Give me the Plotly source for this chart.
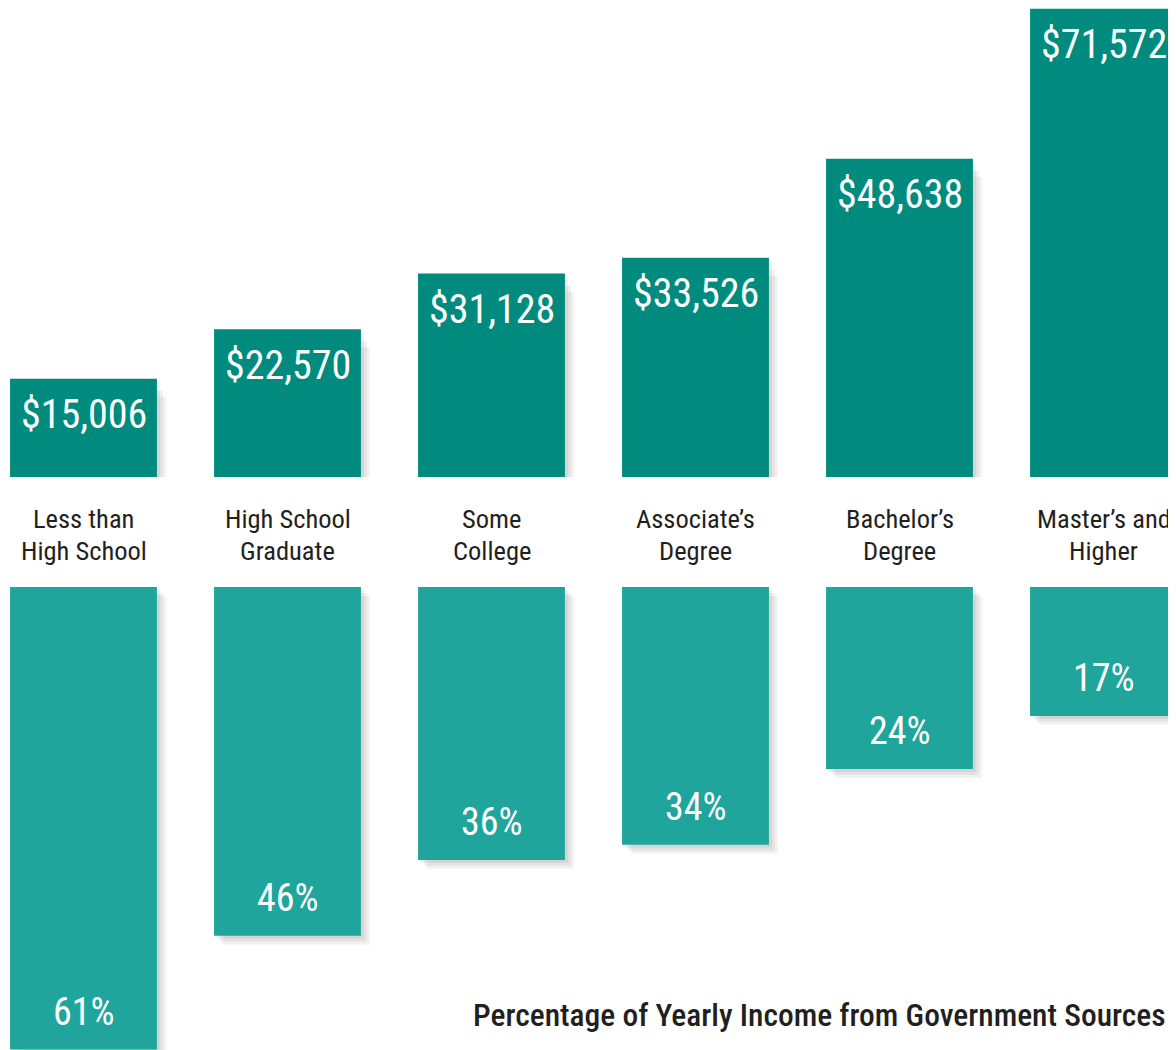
import plotly.graph_objects as go

categories = ["Less than<br>High School", "High School<br>Graduate", "Some<br>College",
              "Associate’s<br>Degree", "Bachelor’s<br>Degree", "Master’s and<br>Higher"]
income = [15006, 22570, 31128, 33526, 48638, 71572]
gov_share = [61, 46, 36, 34, 24, 17]

income_labels = ["${:,}".format(v) for v in income]
share_labels = [f"{v}%" for v in gov_share]

FONT = "Roboto Condensed, Roboto, sans-serif"
DARK = "#008b7e"
LIGHT = "#1fa59c"
INK = "#231f20"
# page body has an 8px margin, so the figure is sized to the visible area
W = 1168
H = 1042

x = list(range(len(categories)))
bar_w = 0.72

inc_top = 71700
pct_bottom = 61.05
# px -> data conversions (used for shadow offsets)
inc_per_px = inc_top / 469
pct_per_px = pct_bottom / (H - 579)
x_per_px = 1 / 204

fig = go.Figure()

# soft drop shadows (a few layered translucent bars)
for k, a in [(3, 0.06), (6, 0.06), (9, 0.05)]:
    fig.add_trace(go.Bar(
        x=x, y=[v - k * inc_per_px for v in income], base=-k * inc_per_px,
        width=bar_w, offset=-bar_w / 2 + k * x_per_px,
        marker=dict(color=f"rgba(0,0,0,{a})", line_width=0),
        xaxis="x", yaxis="y", hoverinfo="skip", showlegend=False))
    fig.add_trace(go.Bar(
        x=x, y=gov_share, base=k * pct_per_px,
        width=bar_w, offset=-bar_w / 2 + k * x_per_px,
        marker=dict(color=f"rgba(0,0,0,{a})", line_width=0),
        xaxis="x2", yaxis="y2", hoverinfo="skip", showlegend=False))

fig.add_trace(go.Bar(
    x=x, y=income, width=bar_w,
    marker=dict(color=DARK, line_width=0),
    xaxis="x", yaxis="y", showlegend=False))
fig.add_trace(go.Bar(
    x=x, y=gov_share, width=bar_w,
    marker=dict(color=LIGHT, line_width=0),
    xaxis="x2", yaxis="y2", showlegend=False))

annotations = []
for i, (v, t) in enumerate(zip(income, income_labels)):
    annotations.append(dict(x=i, y=v, xref="x", yref="y", text=t, showarrow=False,
                            yshift=-36, font=dict(family=FONT, size=40, color="white")))
for i, (v, t) in enumerate(zip(gov_share, share_labels)):
    annotations.append(dict(x=i, y=v, xref="x2", yref="y2", text=t, showarrow=False,
                            yshift=38, font=dict(family=FONT, size=38, color="white")))
for i, c in enumerate(categories):
    for j, line in enumerate(c.split("<br>")):
        yy = 511 + 32 * j
        annotations.append(dict(x=i, y=(H - yy) / H, xref="x", yref="paper", text=line,
                                yanchor="middle", showarrow=False,
                                font=dict(family=FONT, size=26.5, color=INK)))
annotations.append(dict(x=465 / W, y=(H - 1007) / H, xref="paper", yref="paper",
                        xanchor="left", yanchor="middle", xshift=-2,
                        text="Percentage of Yearly Income from Government Sources",
                        showarrow=False, font=dict(family=FONT, size=31.5, color=INK, weight=500)))

xr = [-75.5 / 204, (W - 75.5) / 204]
fig.update_layout(
    width=W, height=H,
    margin=dict(l=0, r=0, t=0, b=0),
    paper_bgcolor="white", plot_bgcolor="white",
    barmode="overlay",
    xaxis=dict(range=xr, visible=False, domain=[0, 1]),
    xaxis2=dict(range=xr, visible=False, domain=[0, 1], anchor="y2"),
    yaxis=dict(range=[0, inc_top], visible=False, domain=[(H - 469) / H, 1]),
    yaxis2=dict(range=[pct_bottom, 0], visible=False, domain=[0, (H - 579) / H], anchor="x2"),
    annotations=annotations,
)

fig.write_html("out.html")
